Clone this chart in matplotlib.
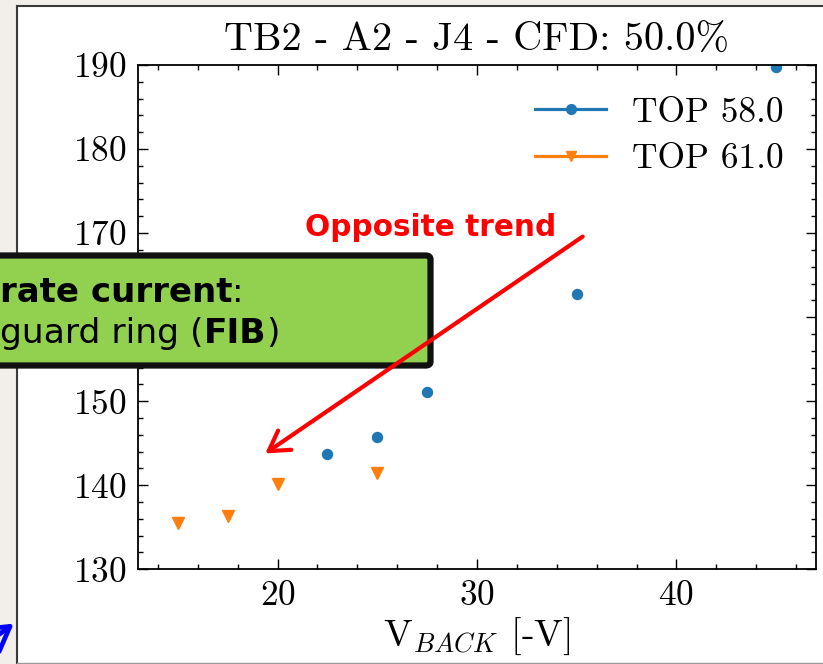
import matplotlib
matplotlib.use("Agg")
import matplotlib.pyplot as plt
from matplotlib.lines import Line2D
from matplotlib.patches import Rectangle, FancyBboxPatch, FancyArrowPatch, ArrowStyle
from matplotlib.ticker import MultipleLocator

# ---- data ----
top58_x = [22.5, 25.0, 27.5, 35.0, 45.0]
top58_y = [143.7, 145.8, 151.1, 162.8, 189.8]
top61_x = [15.0, 17.5, 20.0, 25.0]
top61_y = [135.5, 136.4, 140.2, 141.4]
series_labels = ["TOP 58.0", "TOP 61.0"]
title = "TB2 - A2 - J4 - CFD: 50.0%"
xlabel = r"V$_{BACK}$ [-V]"

plt.rcParams['font.family'] = ['cmr10', 'DejaVu Serif']
plt.rcParams['mathtext.fontset'] = 'cm'
plt.rcParams['axes.formatter.use_mathtext'] = True

W, H = 823, 664
fig = plt.figure(figsize=(W / 100, H / 100), dpi=100)
fig.patch.set_facecolor('white')

def fx(x):
    return x / W

def fy(y):
    return 1 - y / H

# screenshot background / frame
fig.patches.append(Rectangle((0, 0), fx(16), 1, transform=fig.transFigure,
                             facecolor='#f2efea', edgecolor='none', zorder=-10))
fig.patches.append(Rectangle((0, fy(5)), 1, 5 / H, transform=fig.transFigure,
                             facecolor='#f2efea', edgecolor='none', zorder=-10))
fig.add_artist(Line2D([fx(16.8), fx(16.8)], [0, fy(5.5)], transform=fig.transFigure,
                      color='#3a3a3a', lw=1.5, zorder=-5))
fig.add_artist(Line2D([fx(16.8), 1], [fy(5.5), fy(5.5)], transform=fig.transFigure,
                      color='#3a3a3a', lw=1.5, zorder=-5))
fig.add_artist(Line2D([fx(16.8), 1], [fy(663.3), fy(663.3)], transform=fig.transFigure,
                      color='#9a9a9a', lw=1.0, zorder=-5))

ax = fig.add_axes([fx(138), fy(569.3), fx(816) - fx(138), fy(65) - fy(569.3)])
ax.plot(top58_x, top58_y, linestyle='none', marker='o', ms=7.2, color='#1f77b4')
ax.plot(top61_x, top61_y, linestyle='none', marker='v', ms=8.5, color='#ff7f0e')
ax.set_xlim(13, 47)
ax.set_ylim(130, 190)
ax.xaxis.set_major_locator(MultipleLocator(10))
ax.xaxis.set_minor_locator(MultipleLocator(2))
ax.yaxis.set_major_locator(MultipleLocator(10))
ax.yaxis.set_minor_locator(MultipleLocator(2))
ax.tick_params(which='both', direction='in', top=True, right=True, labelsize=25.5, width=1.0)
ax.tick_params(which='major', length=7.2, pad=8)
ax.tick_params(which='minor', length=3.6)
for s in ax.spines.values():
    s.set_linewidth(1.3)
ax.set_title(title, fontsize=29, pad=10)
ax.set_xlabel(xlabel, fontsize=27.5, labelpad=3)

# the 160 label sits underneath the green call-out box in the reference
fig.canvas.draw()
for lab in ax.get_yticklabels():
    if lab.get_text().strip('$') in ("160", r"\mathdefault{160}"):
        lab.set_visible(False)

handles = [Line2D([], [], color='#1f77b4', marker='o', ms=7, lw=2.3),
           Line2D([], [], color='#ff7f0e', marker='v', ms=7, lw=2.3)]
ax.legend(handles, series_labels, loc='upper right', frameon=False, fontsize=25.5,
          handlelength=2.0, handletextpad=0.75, labelspacing=0.42,
          borderaxespad=0.5)

# annotations
ann_font = ['DejaVu Sans']
fig.text(fx(305), fy(236), "Opposite trend", color='#ff0000', fontsize=21.3,
         fontweight='bold', family=ann_font, ha='left', va='baseline', zorder=6)

arrow = FancyArrowPatch((fx(585), fy(235)), (fx(263), fy(455)), transform=fig.transFigure,
                        arrowstyle=ArrowStyle('->', head_length=0.7, head_width=0.42),
                        mutation_scale=20, color='#ff0000', lw=3.0, zorder=6)
fig.patches.append(arrow)

blue_arrow = FancyArrowPatch((fx(-25), fy(652)), (fx(16), fy(622)), transform=fig.transFigure,
                             arrowstyle=ArrowStyle('->', head_length=0.85, head_width=0.5),
                             mutation_scale=20, color='#0000ff', lw=3.4, zorder=6)
fig.patches.append(blue_arrow)

box = FancyBboxPatch((fx(-30), fy(365.5)), fx(460.5), (366 - 256) / H,
                     boxstyle='round,pad=0,rounding_size=0.006', transform=fig.transFigure,
                     facecolor='#92d050', edgecolor='#111111', lw=4.5, zorder=5)
fig.patches.append(box)

renderer = fig.canvas.get_renderer()

def run(parts, x0, ybase, size):
    x = x0
    for txt, weight in parts:
        t = fig.text(fx(x), fy(ybase), txt, fontsize=size, fontweight=weight,
                     family=ann_font, color='black', ha='left', va='baseline', zorder=7)
        bb = t.get_window_extent(renderer=renderer)
        x += bb.width

run([("rate current", 'bold'), (":", 'normal')], 0, 301.5, 24.5)
run([("guard ring (", 'normal'), ("FIB", 'bold'), (")", 'normal')], 0, 343, 24.8)

fig.savefig("out.png", dpi=100)
